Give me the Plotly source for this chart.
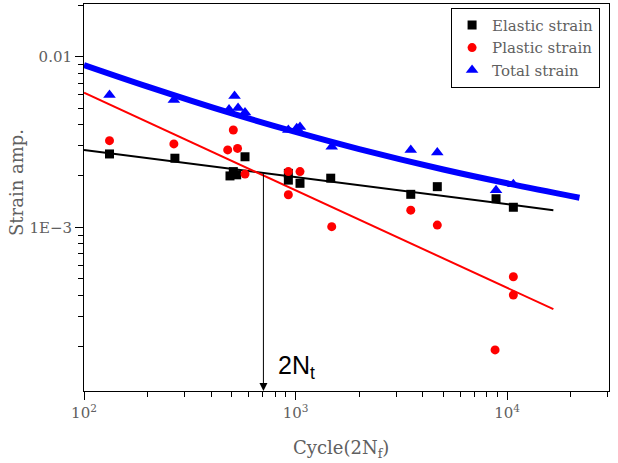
import math
import plotly.graph_objects as go

# ---- data ----
elastic_x = [132, 269, 490, 508, 527, 577, 925, 925, 1050, 1467, 3506, 4680, 8870, 10710]
elastic_y = [2.69e-3, 2.54e-3, 2.00e-3, 2.12e-3, 2.03e-3, 2.59e-3, 2.07e-3, 1.89e-3,
             1.81e-3, 1.94e-3, 1.56e-3, 1.73e-3, 1.47e-3, 1.31e-3]

plastic_x = [132, 266, 508, 478, 532, 577, 925, 1050, 925, 1483, 3506, 4680, 10710, 10710, 8780]
plastic_y = [3.22e-3, 3.08e-3, 3.72e-3, 2.84e-3, 2.90e-3, 2.05e-3, 2.12e-3, 2.12e-3,
             1.55e-3, 1.008e-3, 1.26e-3, 1.03e-3, 5.13e-4, 4.01e-4, 1.91e-4]

total_x = [132, 266, 515, 485, 535, 577, 925, 1013, 1050, 1483, 3506, 4680, 8870, 10710]
total_y = [5.96e-3, 5.57e-3, 5.88e-3, 4.90e-3, 5.00e-3, 4.71e-3, 3.72e-3, 3.80e-3,
           3.87e-3, 2.97e-3, 2.84e-3, 2.74e-3, 1.65e-3, 1.79e-3]

elastic_fit_x = [100, 16560]
elastic_fit_y = [2.84e-3, 1.26e-3]
plastic_fit_x = [100, 16560]
plastic_fit_y = [6.15e-3, 3.31e-4]
total_fit_x = [100, 200, 500, 1000, 2000, 5000, 10000, 22000]
total_fit_y = [8.94e-3, 6.68e-3, 4.65e-3, 3.62e-3, 2.87e-3, 2.18e-3, 1.81e-3, 1.49e-3]

transition_x = 705
transition_y = 2.09e-3

x_range = [2.0, 4.482]
y_range = [-3.96, -1.691]

x_tickvals = [100, 1000, 10000]
x_ticktext = ["10<sup>2</sup>", "10<sup>3</sup>", "10<sup>4</sup>"]
y_tickvals = [1e-3, 1e-2]
y_ticktext = ["1E\u22123", "0.01"]

series_names = ["Elastic strain", "Plastic strain", "Total strain"]

# ---- figure ----
SERIF = "DejaVu Serif"
GRAY = "#606060"

def minor_vals(lo, hi):
    vals = []
    for e in range(int(math.floor(lo)) - 1, int(math.ceil(hi)) + 1):
        for m in range(2, 10):
            v = m * 10 ** e
            if lo <= math.log10(v) <= hi:
                vals.append(v)
    return vals

fig = go.Figure()

fig.add_trace(go.Scatter(x=total_fit_x, y=total_fit_y, mode="lines", line=dict(color="#0000ff", width=6, shape="spline"),
                         showlegend=False, hoverinfo="skip"))
fig.add_trace(go.Scatter(x=elastic_fit_x, y=elastic_fit_y, mode="lines", line=dict(color="black", width=2),
                         showlegend=False, hoverinfo="skip"))
fig.add_trace(go.Scatter(x=plastic_fit_x, y=plastic_fit_y, mode="lines", line=dict(color="#ff0000", width=2),
                         showlegend=False, hoverinfo="skip"))

fig.add_trace(go.Scatter(x=elastic_x, y=elastic_y, mode="markers", name=series_names[0],
                         marker=dict(symbol="square", size=9, color="black")))
fig.add_trace(go.Scatter(x=plastic_x, y=plastic_y, mode="markers", name=series_names[1],
                         marker=dict(symbol="circle", size=9, color="#ff0000")))
fig.add_trace(go.Scatter(x=total_x, y=total_y, mode="markers", name=series_names[2],
                         marker=dict(symbol="triangle-up", size=11, color="#0000ff")))

axis_common = dict(
    type="log", showgrid=False, zeroline=False, showline=True, linecolor="black", linewidth=1,
    mirror=True, ticks="outside", ticklen=8, tickcolor="black", tickwidth=1,
    tickfont=dict(family=SERIF, size=15, color=GRAY),
)

fig.update_xaxes(**axis_common, range=x_range, tickmode="array", tickvals=x_tickvals, ticktext=x_ticktext,
                 minor=dict(tickmode="array", tickvals=minor_vals(*x_range), ticks="outside", ticklen=5,
                            tickcolor="black", showgrid=False))
fig.update_yaxes(**axis_common, range=y_range, tickmode="array", tickvals=y_tickvals, ticktext=y_ticktext,
                 minor=dict(tickmode="array", tickvals=minor_vals(*y_range), ticks="outside", ticklen=5,
                            tickcolor="black", showgrid=False))

fig.update_layout(
    width=618, height=463,
    margin=dict(l=84, r=9, t=4, b=72),
    plot_bgcolor="white", paper_bgcolor="white",
    legend=dict(x=0.983, y=0.99, xanchor="right", yanchor="top", bordercolor="black", borderwidth=1,
                bgcolor="white", font=dict(family=SERIF, size=15, color=GRAY)),
    annotations=[
        dict(x=math.log10(transition_x), y=y_range[0], xref="x", yref="y",
             ax=math.log10(transition_x), ay=math.log10(transition_y), axref="x", ayref="y",
             text="", showarrow=True, arrowhead=2, arrowsize=1.6, arrowwidth=1, arrowcolor="black", standoff=0),
        dict(x=(276 - 84) / 525, y=(391 - 367) / 387, xref="paper", yref="paper", xanchor="left", yanchor="middle",
             text="2N<sub>t</sub>", showarrow=False, font=dict(family="Liberation Sans", size=25, color="black")),
        dict(x=(341 - 84) / 525, y=(391 - 449) / 387, xref="paper", yref="paper", xanchor="center", yanchor="middle",
             text="Cycle(2N<sub>f</sub>)", showarrow=False, font=dict(family=SERIF, size=18, color=GRAY)),
        dict(x=(16 - 84) / 525, y=(391 - 183) / 387, xref="paper", yref="paper", xanchor="center", yanchor="middle",
             text="Strain amp.", textangle=-90, showarrow=False, font=dict(family=SERIF, size=18, color=GRAY)),
    ],
)

fig.write_html("out.html")
